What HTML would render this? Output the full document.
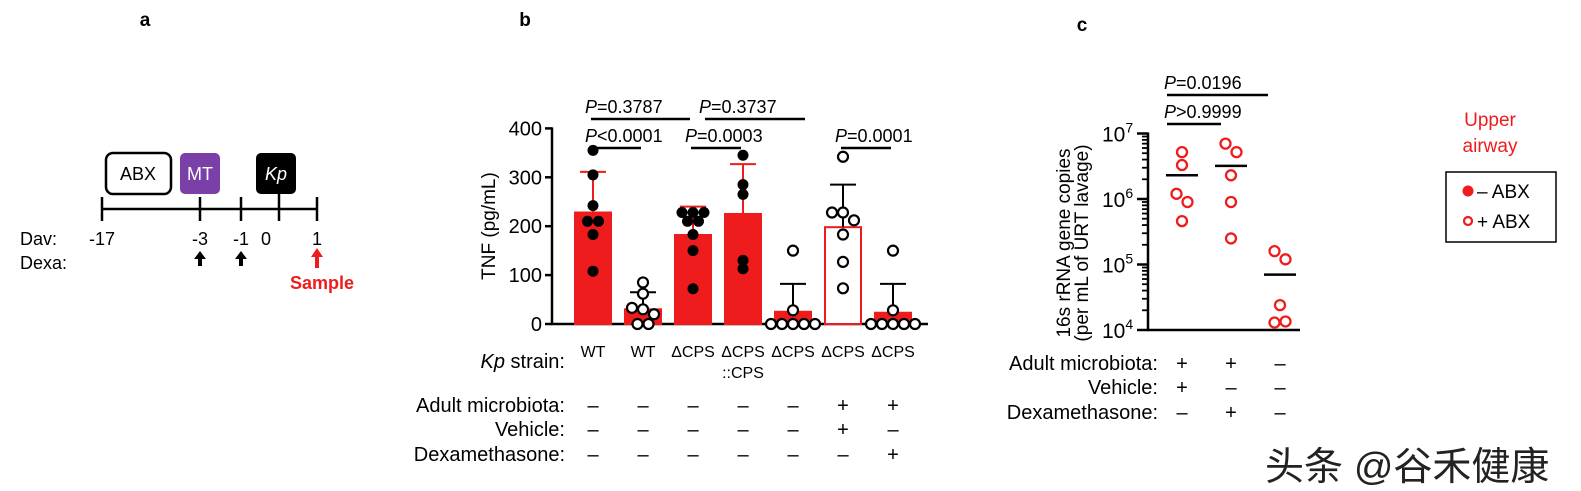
<!DOCTYPE html>
<html><head><meta charset="utf-8"><style>
body{margin:0;background:#fff;}
svg text{font-family:"Liberation Sans","Noto Sans CJK SC",sans-serif;}
</style></head><body>
<svg width="1581" height="486" viewBox="0 0 1581 486" xmlns="http://www.w3.org/2000/svg" id="fig">
<g font-size="17" fill="#000">
<text x="145" y="26" font-weight="bold" font-size="19" text-anchor="middle">a</text>
<text x="525" y="26" font-weight="bold" font-size="19" text-anchor="middle">b</text>
<text x="1082" y="31" font-weight="bold" font-size="19" text-anchor="middle">c</text>
</g>
<!-- Panel a -->
<g id="panelA" stroke="#000" stroke-width="2.5" fill="none">
<line x1="102" y1="209" x2="317" y2="209"/>
<line x1="102" y1="197" x2="102" y2="221"/>
<line x1="200" y1="197" x2="200" y2="221"/>
<line x1="241" y1="197" x2="241" y2="221"/>
<line x1="279" y1="193" x2="279" y2="221"/>
<line x1="317" y1="197" x2="317" y2="221"/>
<rect x="106" y="153" width="65" height="41" rx="7" stroke-width="2.5"/>
<rect x="180" y="153" width="40" height="41" rx="5" fill="#7b3fa8" stroke="none"/>
<rect x="256" y="153" width="40" height="41" rx="5" fill="#000" stroke="none"/>
</g>
<g font-size="18">
<text x="138" y="180" text-anchor="middle">ABX</text>
<text x="200" y="180" text-anchor="middle" fill="#fff">MT</text>
<text x="276" y="180" text-anchor="middle" fill="#fff" font-style="italic">Kp</text>
<text x="20" y="245">Dav:</text>
<text x="102" y="245" text-anchor="middle">-17</text>
<text x="200" y="245" text-anchor="middle">-3</text>
<text x="241" y="245" text-anchor="middle">-1</text>
<text x="266" y="245" text-anchor="middle">0</text>
<text x="317" y="245" text-anchor="middle">1</text>
<text x="20" y="269">Dexa:</text>
<text x="322" y="289" text-anchor="middle" font-weight="bold" fill="#ee1c1c">Sample</text>
</g>
<g>
<path d="M200 251 l-6 8 h4 v7 h4 v-7 h4z" fill="#000"/>
<path d="M241 251 l-6 8 h4 v7 h4 v-7 h4z" fill="#000"/>
<path d="M317 248 l-6 9 h4 v11 h4 v-11 h4z" fill="#ee1c1c"/>
</g>

<!-- Panel b -->
<g id="panelB"></g>
<g font-size="20">
<text transform="translate(495,226) rotate(-90)" text-anchor="middle" font-size="19">TNF (pg/mL)</text>
<text x="565" y="368" text-anchor="end"><tspan font-style="italic">Kp</tspan> strain:</text>
<text x="743" y="378" text-anchor="middle" font-size="16">::CPS</text>
<text x="565" y="412" text-anchor="end">Adult microbiota:</text>
<text x="565" y="436" text-anchor="end">Vehicle:</text>
<text x="565" y="461" text-anchor="end">Dexamethasone:</text>
</g>

<!-- Panel c -->
<g id="panelC"></g>
<g font-size="19">
<text transform="translate(1070,243) rotate(-90)" text-anchor="middle">16s rRNA gene copies</text>
<text transform="translate(1088,243) rotate(-90)" text-anchor="middle">(per mL of URT lavage)</text>
</g>
<g font-size="20">
<text x="1158" y="370" text-anchor="end">Adult microbiota:</text>
<text x="1158" y="394" text-anchor="end">Vehicle:</text>
<text x="1158" y="419" text-anchor="end">Dexamethasone:</text>
</g>

<!-- Legend -->
<g>
<text x="1490" y="126" text-anchor="middle" font-size="19" fill="#ee1c1c">Upper</text>
<text x="1490" y="152" text-anchor="middle" font-size="19" fill="#ee1c1c">airway</text>
<rect x="1446" y="172" width="110" height="70" fill="none" stroke="#000" stroke-width="1.5"/>
<circle cx="1468" cy="191" r="5.5" fill="#ee1c1c"/>
<text x="1477" y="198" font-size="19">– ABX</text>
<circle cx="1468" cy="221" r="4" fill="#fff" stroke="#ee1c1c" stroke-width="2.2"/>
<text x="1477" y="228" font-size="19">+ ABX</text>
</g>

<text x="1265" y="480" font-size="39" fill="#222" font-family="'Noto Sans CJK SC',sans-serif">头条 @谷禾健康</text>
</svg>
<script>
// Panel b data
const bCategories = ["WT","WT","ΔCPS","ΔCPS","ΔCPS","ΔCPS","ΔCPS"];
const bMeans = [228, 30, 182, 225, 25, 198, 23];
const bSD = [83, 35, 58, 102, 57, 87, 59];
const bFilled = [true, false, true, true, false, false, false];
const bBarFilled = [true, true, true, true, true, false, true];
const bPoints = [
 [355, 305, 242, 210, 210, 183, 108],
 [85, 62, 33, 30, 20, 0, 0],
 [228, 228, 228, 210, 210, 183, 150, 72],
 [345, 285, 265, 130, 113],
 [150, 28, 0, 0, 0, 0, 0],
 [342, 228, 228, 212, 183, 127, 73],
 [150, 28, 0, 0, 0, 0, 0]
];
const bTicks = [0, 100, 200, 300, 400];
const bMicrobiota = ["–","–","–","–","–","+","+"];
const bVehicle = ["–","–","–","–","–","+","–"];
const bDexa = ["–","–","–","–","–","–","+"];
const bComparisons = [[0,1,"<0.0001",1],[0,2,"=0.3787",2],[2,3,"=0.0003",1],[2,4,"=0.3737",2],[5,6,"=0.0001",1]];

// Panel c data
const cGroups = [
 [5.2e6, 3.3e6, 1.2e6, 9e5, 4.6e5],
 [7e6, 5.2e6, 2.3e6, 9e5, 2.5e5],
 [1.6e5, 1.2e5, 2.4e4, 1.3e4, 1.35e4]
];
const cMeans = [2.3e6, 3.2e6, 7e4];
const cMicrobiota = ["+","+","–"];
const cVehicle = ["+","–","–"];
const cDexa = ["–","+","–"];
const cComparisons = [[0,1,">0.9999",1],[0,2,"=0.0196",2]];

const NS = "http://www.w3.org/2000/svg";
const RED = "#ee1c1c";
function mk(parent, tag, attrs, txt){const e=document.createElementNS(NS,tag);for(const k in attrs)e.setAttribute(k,attrs[k]);if(txt!==undefined)e.textContent=txt;parent.appendChild(e);return e;}
function jitter(ys, step, tol){
  const off = new Array(ys.length).fill(0);
  const used = new Array(ys.length).fill(false);
  for(let i=0;i<ys.length;i++){
    if(used[i]) continue;
    const grp=[i]; used[i]=true;
    for(let j=i+1;j<ys.length;j++){ if(!used[j] && Math.abs(ys[j]-ys[i])<tol){grp.push(j);used[j]=true;} }
    grp.forEach((k,n)=>{off[k]=(n-(grp.length-1)/2)*step;});
  }
  return off;
}

// ---- Panel B
const gB = document.getElementById("panelB");
const bY = v => 324 - v*0.489;
const bX = i => 593 + i*50;
mk(gB,"line",{x1:552,y1:bY(400)-1,x2:552,y2:bY(0)+1,stroke:"#000","stroke-width":2.5});
mk(gB,"line",{x1:551,y1:bY(0),x2:928,y2:bY(0),stroke:"#000","stroke-width":2.5});
bTicks.forEach(t=>{
  mk(gB,"line",{x1:545,y1:bY(t),x2:552,y2:bY(t),stroke:"#000","stroke-width":2.5});
  const tx = mk(gB,"text",{x:542,y:bY(t)+7,"text-anchor":"end","font-size":20},t);
  
  
});
bCategories.forEach((c,i)=>{
  const x=bX(i);
  const bar = mk(gB,"rect",{x:x-18,y:bY(bMeans[i]),width:36,height:bY(0)-bY(bMeans[i]),fill:bBarFilled[i]?RED:"#fff",stroke:RED,"stroke-width":2});
  
  
  const ec = bFilled[i] ? RED : "#000";
  mk(gB,"line",{x1:x,y1:bY(bMeans[i]),x2:x,y2:bY(bMeans[i]+bSD[i]),stroke:ec,"stroke-width":2});
  mk(gB,"line",{x1:x-13,y1:bY(bMeans[i]+bSD[i]),x2:x+13,y2:bY(bMeans[i]+bSD[i]),stroke:ec,"stroke-width":2});
  const pts=bPoints[i];
  const offs = jitter(pts.map(bY), 11, 8);
  pts.forEach((v,j)=>{
    const p = mk(gB,"circle",{cx:x+offs[j],cy:bY(v),r:bFilled[i]?5.5:5,fill:bFilled[i]?"#000":"#fff",stroke:"#000","stroke-width":bFilled[i]?0:2.2});
    
    
  });
  const lbl = mk(gB,"text",{x:x,y:357,"text-anchor":"middle","font-size":16},c);
  
  
  mk(gB,"text",{x:x,y:412,"text-anchor":"middle","font-size":20},bMicrobiota[i]);
  mk(gB,"text",{x:x,y:436,"text-anchor":"middle","font-size":20},bVehicle[i]);
  mk(gB,"text",{x:x,y:461,"text-anchor":"middle","font-size":20},bDexa[i]);
});
bComparisons.forEach(([a,b,lab,lvl],k)=>{
  const y = lvl===1?148:119;
  const shift = (lvl===2 && k>1) ? 12 : -2;
  mk(gB,"line",{x1:bX(a)+shift,y1:y,x2:bX(b)+(lvl===1?-2:(k>1?12:-3)),y2:y,stroke:"#000","stroke-width":2.5});
  const t = mk(gB,"text",{x:bX(a)+shift-6,y:y-6,"font-size":18});
  
  
  mk(t,"tspan",{"font-style":"italic"},"P");
  mk(t,"tspan",{},lab);
});

// ---- Panel C
const gC = document.getElementById("panelC");
const cY = v => 330 - (Math.log10(v)-4)*65.5;
const cX = i => 1182 + i*49;
mk(gC,"line",{x1:1148,y1:cY(1e7)-1,x2:1148,y2:cY(1e4)+1,stroke:"#000","stroke-width":2.5});
mk(gC,"line",{x1:1147,y1:cY(1e4),x2:1300,y2:cY(1e4),stroke:"#000","stroke-width":2.5});
for(let d=4;d<=7;d++){
  mk(gC,"line",{x1:1137,y1:cY(Math.pow(10,d)),x2:1148,y2:cY(Math.pow(10,d)),stroke:"#000","stroke-width":2.5});
  const t=mk(gC,"text",{x:1102,y:cY(Math.pow(10,d))+8,"font-size":21},"10");
  mk(t,"tspan",{dy:-9,"font-size":14},String(d));
  
  
  if(d<7) for(let m=2;m<=9;m++){
    mk(gC,"line",{x1:1142,y1:cY(m*Math.pow(10,d)),x2:1148,y2:cY(m*Math.pow(10,d)),stroke:"#000","stroke-width":1.8});
  }
}
cGroups.forEach((g,i)=>{
  const x=cX(i);
  const offs = jitter(g.map(cY), 11, 9);
  g.forEach((v,j)=>{
    const p=mk(gC,"circle",{cx:x+offs[j],cy:cY(v),r:5,fill:"#fff",stroke:RED,"stroke-width":2.3});
    
    
  });
  const m=mk(gC,"line",{x1:x-16,y1:cY(cMeans[i]),x2:x+16,y2:cY(cMeans[i]),stroke:"#000","stroke-width":2.5});
  
  
  mk(gC,"text",{x:x,y:370,"text-anchor":"middle","font-size":20},cMicrobiota[i]);
  mk(gC,"text",{x:x,y:394,"text-anchor":"middle","font-size":20},cVehicle[i]);
  mk(gC,"text",{x:x,y:419,"text-anchor":"middle","font-size":20},cDexa[i]);
});
cComparisons.forEach(([a,b,lab,lvl])=>{
  const y = lvl===1?124:95;
  mk(gC,"line",{x1:cX(a)-15,y1:y,x2:cX(b)+(lvl===1?-10:-12),y2:y,stroke:"#000","stroke-width":2.5});
  const t=mk(gC,"text",{x:cX(a)-18,y:y-6,"font-size":18});
  
  
  mk(t,"tspan",{"font-style":"italic"},"P");
  mk(t,"tspan",{},lab);
});
</script>
</body></html>
